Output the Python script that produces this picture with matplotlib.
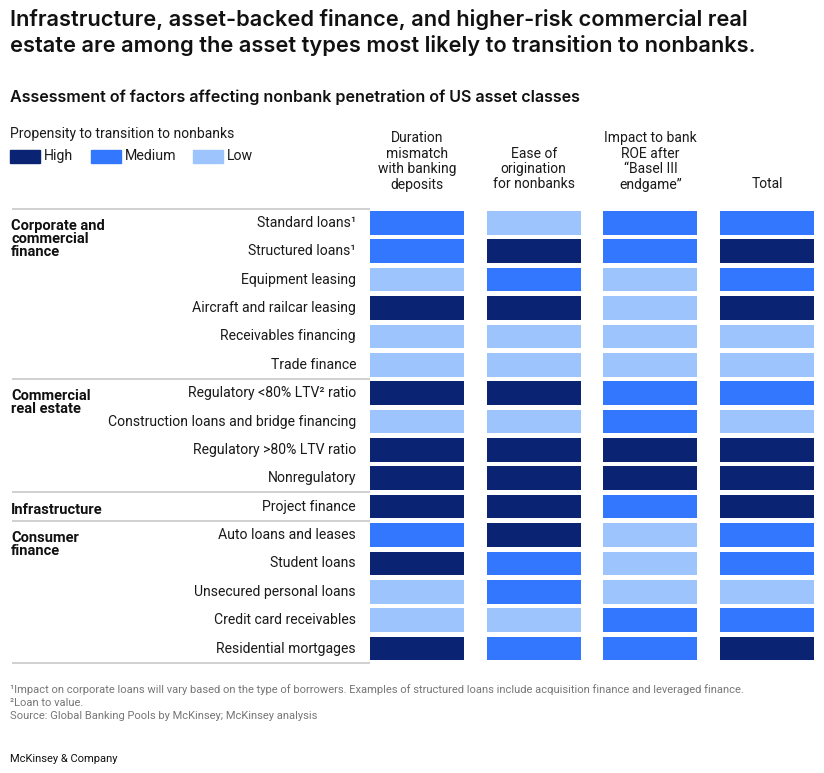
import matplotlib
matplotlib.use("Agg")
import matplotlib.pyplot as plt
from matplotlib.patches import Rectangle

plt.rcParams['font.family'] = ['Roboto', 'DejaVu Sans']

# ---------------- data ----------------
title_lines = ["Infrastructure, asset-backed finance, and higher-risk commercial real",
               "estate are among the asset types most likely to transition to nonbanks."]
subtitle = "Assessment of factors affecting nonbank penetration of US asset classes"

factors = ["Duration\nmismatch\nwith banking\ndeposits",
           "Ease of\norigination\nfor nonbanks",
           "Impact to bank\nROE after\n\u201cBasel III\nendgame\u201d",
           "Total"]

asset_classes = ["Standard loans\u00b9", "Structured loans\u00b9", "Equipment leasing",
                 "Aircraft and railcar leasing", "Receivables financing", "Trade finance",
                 "Regulatory <80% LTV\u00b2 ratio", "Construction loans and bridge financing",
                 "Regulatory >80% LTV ratio", "Nonregulatory",
                 "Project finance",
                 "Auto loans and leases", "Student loans", "Unsecured personal loans",
                 "Credit card receivables", "Residential mortgages"]

groups = ["Corporate and\ncommercial\nfinance", "Commercial\nreal estate",
          "Infrastructure", "Consumer\nfinance"]
group_sizes = [6, 4, 1, 5]

duration = ["Medium", "Medium", "Low", "High", "Low", "Low",
            "High", "Low", "High", "High",
            "High",
            "Medium", "High", "Low", "Low", "High"]
ease = ["Low", "High", "Medium", "High", "Low", "Low",
        "High", "Low", "High", "High",
        "High",
        "High", "Medium", "Medium", "Low", "Medium"]
impact = ["Medium", "Medium", "Low", "Low", "Low", "Low",
          "Medium", "Medium", "High", "High",
          "Medium",
          "Low", "Low", "Low", "Medium", "Medium"]
total = ["Medium", "High", "Medium", "High", "Low", "Low",
         "Medium", "Low", "High", "High",
         "High",
         "Medium", "Medium", "Low", "Medium", "High"]

levels = ["High", "Medium", "Low"]
level_colors = {"High": "#0A2373", "Medium": "#3377FF", "Low": "#9DC4FC"}

footnotes = ["\u00b9Impact on corporate loans will vary based on the type of borrowers. "
             "Examples of structured loans include acquisition finance and leveraged finance.",
             "\u00b2Loan to value.",
             "Source: Global Banking Pools by McKinsey; McKinsey analysis"]

# ---------------- layout ----------------
W, H = 824, 773
fig = plt.figure(figsize=(W / 100, H / 100), dpi=100)
renderer = fig.canvas.get_renderer()

TXT = "#1a1a1a"
GRAY = "#767676"
LINE = "#c4c4c4"


def fx(px):
    return px / W


def fy(py):
    return 1 - py / H


def fit_width(t, target_px):
    w = t.get_window_extent(renderer).width
    t.set_fontsize(t.get_fontsize() * target_px / w)


# Title & subtitle
tfam = ['Inter', 'Roboto', 'DejaVu Sans']
t1 = fig.text(fx(10), fy(25.5), title_lines[0], fontsize=15, weight='semibold',
              family=tfam, color='#111111', ha='left', va='baseline')
t2 = fig.text(fx(10), fy(52), title_lines[1], fontsize=15, weight='semibold',
              family=tfam, color='#111111', ha='left', va='baseline')
fit_width(t2, 744)
t1.set_fontsize(t2.get_fontsize())
st = fig.text(fx(10), fy(102), subtitle, fontsize=11, weight='semibold', family=tfam,
              color='#111111', ha='left', va='baseline')
fit_width(st, 571)

# Legend
fig.text(fx(10), fy(134), "Propensity to transition to nonbanks", fontsize=10.0,
         color=TXT, ha='left', va='center')
leg_x = [10, 91, 193]
for lx, lev in zip(leg_x, levels):
    fig.patches.append(Rectangle((fx(lx), fy(162.5)), 30 / W, 13 / H,
                                 transform=fig.transFigure, color=level_colors[lev]))
    fig.text(fx(lx + 34), fy(156), lev, fontsize=10.2, color=TXT, ha='left', va='center')

# Main axes (data coordinates: column index, row index)
col0, col_pitch = 417.0, 116.7
row0, row_pitch = 222.85, 28.38
ax_top, ax_bot = 200, 670
ax = fig.add_axes([0, fy(ax_bot), 1, (ax_bot - ax_top) / H])
ax.set_xlim((0 - col0) / col_pitch, (W - col0) / col_pitch)
ax.set_ylim((ax_bot - row0) / row_pitch, (ax_top - row0) / row_pitch)
ax.axis('off')


def dx(px):
    return (px - col0) / col_pitch


def dy(py):
    return (py - row0) / row_pitch


cell_w, cell_h = 0.805, 0.835
series = [duration, ease, impact, total]
rows = list(range(len(asset_classes)))
for j, vals in enumerate(series):
    ax.bar([j] * len(rows), [cell_h] * len(rows),
           bottom=[r - cell_h / 2 for r in rows], width=cell_w,
           color=[level_colors[v] for v in vals], linewidth=0)

# Column headers
for j, h in enumerate(factors):
    ax.text(j, dy(191.5), h, ha='center', va='bottom', fontsize=10,
            color=TXT, linespacing=1.13, clip_on=False)

# Row labels
for r, lab in zip(rows, asset_classes):
    ax.text(dx(356), r, lab, ha='right', va='center', fontsize=10.1, color=TXT)

# Group labels and separators
start = 0
ax.plot([dx(12), dx(370)], [-0.5, -0.5], color=LINE, lw=1.1, solid_capstyle='butt')
for g, n in zip(groups, group_sizes):
    ax.text(dx(11), start - 0.14, g, ha='left', va='top', fontsize=10.5,
            weight='bold', color='#111111', linespacing=0.93)
    end = start + n
    ax.plot([dx(12), dx(370)], [end - 0.5, end - 0.5], color=LINE, lw=1.1,
            solid_capstyle='butt')
    start = end

# Footnotes
for i, t in enumerate(footnotes):
    fig.text(fx(10), fy(690 + 13 * i), t, fontsize=8.0, color=GRAY,
             ha='left', va='center')

fig.text(fx(10), fy(759), "McKinsey & Company", fontsize=8, color='#111111',
         ha='left', va='center')

fig.savefig("out.png", dpi=100)
